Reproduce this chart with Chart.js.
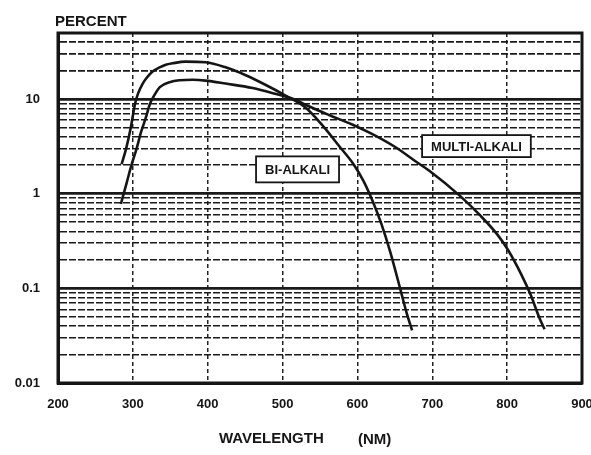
<!DOCTYPE html>
<html>
<head>
<meta charset="utf-8">
<script src="https://cdn.jsdelivr.net/npm/chart.js@4.4.1/dist/chart.umd.min.js"></script>
<style>
  html, body { margin: 0; padding: 0; background: #fff; }
  #wrap { width: 591px; height: 455px; }
</style>
</head>
<body>
<div id="wrap"><canvas id="qeChart" width="591" height="455"></canvas></div>
<script>
// (nm, percent)
const biWavelength = [285, 291, 297, 303, 307, 313, 318, 326, 335, 344, 353, 370, 397, 423, 450, 477, 504, 531, 553, 576, 595, 608, 620, 632, 644, 657, 666, 673];
const biPercent = [2.05, 3.0, 4.9, 9.0, 11.5, 14.5, 16.6, 19.5, 21.5, 23.1, 23.9, 24.9, 24.5, 21.8, 18.0, 14.2, 10.9, 8.1, 5.3, 3.16, 2.04, 1.37, 0.85, 0.48, 0.24, 0.10, 0.054, 0.036];

const multiWavelength = [284, 292, 298, 305, 311, 317, 323, 329, 336, 349, 380, 397, 424, 460, 490, 515, 535, 562, 593, 620, 651, 678, 696, 737, 764, 787, 801, 819, 831, 843, 850];
const multiPercent = [0.78, 1.33, 2.0, 3.0, 4.5, 6.25, 9.0, 11.1, 13.4, 15.1, 16.0, 15.7, 14.6, 13.1, 11.4, 10.0, 8.4, 6.8, 5.4, 4.27, 3.1, 2.19, 1.75, 0.95, 0.59, 0.37, 0.256, 0.14, 0.087, 0.049, 0.037];

const xTicks = [200, 300, 400, 500, 600, 700, 800, 900];
const yDecades = [0.01, 0.1, 1, 10];
const yDecadeLabels = ['0.01', '0.1', '1', '10'];
const yMultipliers = [1, 2, 3, 4, 5, 6, 7, 8, 9];
const yTop = 50;

const curveLabels = ['BI-ALKALI', 'MULTI-ALKALI'];
const curveLabelWavelength = [520, 759];
const curveLabelPercent = [1.81, 3.19];

const INK = '#151515';
const FONT = '"Liberation Sans", Arial, sans-serif';

// every gridline value: 1..9 of each decade, then up to the top
const yTickValues = [];
yDecades.forEach(d => yMultipliers.forEach(m => {
    const v = d * m;
    if (v <= yTop) yTickValues.push(v);
}));
for (let v = 20; v <= yTop; v += 10) yTickValues.push(v);

function isDecade(v) {
    return yDecades.some(d => Math.abs(v - d) < d * 1e-6);
}

function toPoints(xs, ys) {
    return xs.map((x, i) => ({ x, y: ys[i] }));
}

const annotatePlugin = {
    id: 'annotate',
    afterDraw(chart) {
        const { ctx, chartArea, scales } = chart;
        ctx.save();
        ctx.strokeStyle = INK;
        ctx.lineWidth = 3;
        ctx.strokeRect(chartArea.left, chartArea.top, chartArea.right - chartArea.left, chartArea.bottom - chartArea.top);

        ctx.font = `bold 13px ${FONT}`;
        ctx.textAlign = 'center';
        ctx.textBaseline = 'middle';
        curveLabels.forEach((txt, i) => {
            const cx = scales.x.getPixelForValue(curveLabelWavelength[i]);
            const cy = scales.y.getPixelForValue(curveLabelPercent[i]);
            const w = ctx.measureText(txt).width + 18;
            const h = i === 0 ? 26 : 22;
            ctx.fillStyle = '#fff';
            ctx.fillRect(cx - w / 2, cy - h / 2, w, h);
            ctx.lineWidth = 1.8;
            ctx.strokeStyle = INK;
            ctx.strokeRect(cx - w / 2, cy - h / 2, w, h);
            ctx.fillStyle = INK;
            ctx.fillText(txt, cx, cy + 1);
        });

        ctx.font = `bold 15px ${FONT}`;
        ctx.textAlign = 'left';
        ctx.fillStyle = INK;
        ctx.fillText('PERCENT', chartArea.left - 3, chartArea.top - 11);
        ctx.fillText('WAVELENGTH', chartArea.left + 161, chartArea.bottom + 56);
        ctx.fillText('(NM)', chartArea.left + 300, chartArea.bottom + 57);
        ctx.restore();
    }
};

const lineStyle = {
    borderColor: INK,
    backgroundColor: INK,
    borderWidth: 2.6,
    pointRadius: 0,
    cubicInterpolationMode: 'monotone',
    fill: false
};

const ctx = document.getElementById('qeChart').getContext('2d');
new Chart(ctx, {
    type: 'line',
    data: {
        datasets: [
            { label: 'BI-ALKALI', data: toPoints(biWavelength, biPercent), ...lineStyle },
            { label: 'MULTI-ALKALI', data: toPoints(multiWavelength, multiPercent), ...lineStyle }
        ]
    },
    options: {
        responsive: false,
        animation: false,
        devicePixelRatio: 1,
        layout: { padding: { top: 33, right: 9, bottom: 0, left: 0 } },
        plugins: {
            legend: { display: false },
            tooltip: { enabled: false }
        },
        scales: {
            x: {
                type: 'linear',
                min: 200,
                max: 900,
                afterBuildTicks: s => { s.ticks = xTicks.map(v => ({ value: v })); },
                afterFit: s => { s.height = 72; s.paddingLeft = 0; s.paddingRight = 0; },
                ticks: {
                    color: INK,
                    font: { family: FONT, size: 13, weight: 'bold' },
                    padding: 14,
                    maxRotation: 0
                },
                grid: { color: '#222', lineWidth: 1.5, drawTicks: false },
                border: { display: true, color: INK, width: 3, dash: [4, 3] }
            },
            y: {
                type: 'logarithmic',
                min: 0.01,
                max: yTop,
                afterBuildTicks: s => { s.ticks = yTickValues.map(v => ({ value: v })); },
                afterFit: s => { s.width = 58; },
                ticks: {
                    color: INK,
                    font: { family: FONT, size: 13, weight: 'bold' },
                    padding: 18,
                    autoSkip: false,
                    callback: v => {
                        const i = yDecades.findIndex(d => Math.abs(v - d) < d * 1e-6);
                        return i >= 0 ? yDecadeLabels[i] : '';
                    }
                },
                grid: {
                    color: '#1a1a1a',
                    drawTicks: false,
                    lineWidth: c => (c.tick && isDecade(c.tick.value)) ? 2.8 : 1.6
                },
                border: {
                    display: true,
                    color: INK,
                    width: 3,
                    dash: c => (c.tick && isDecade(c.tick.value)) ? [] : [7, 2]
                }
            }
        }
    },
    plugins: [annotatePlugin]
});
</script>
</body>
</html>
